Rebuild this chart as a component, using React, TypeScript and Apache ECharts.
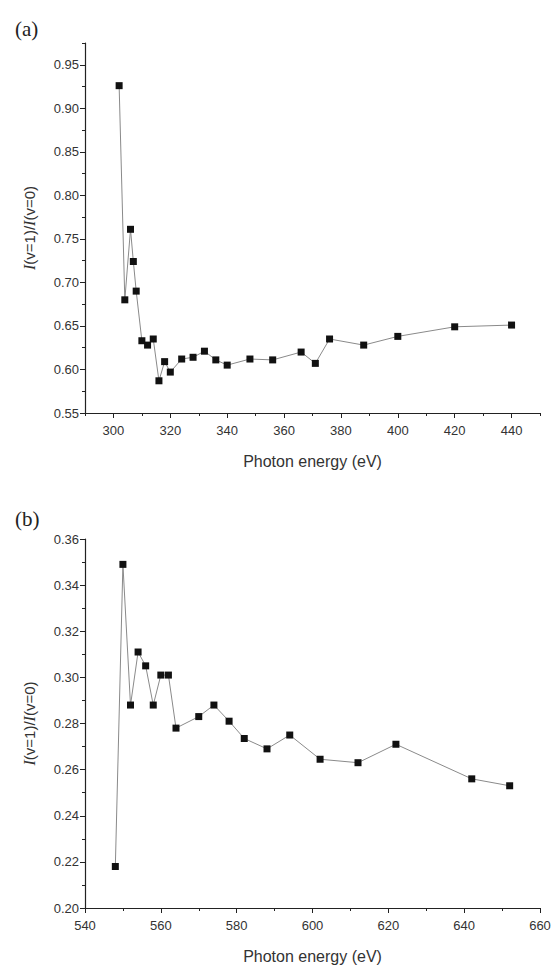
import React, { useEffect, useRef } from "react";
import * as echarts from "echarts";

// Panel (a): photon energy (eV) vs intensity ratio
const energyA = [302, 304, 306, 307, 308, 310, 312, 314, 316, 318, 320, 324, 328, 332, 336, 340, 348, 356, 366, 371, 376, 388, 400, 420, 440];
const ratioA = [0.926, 0.680, 0.761, 0.724, 0.690, 0.633, 0.628, 0.635, 0.587, 0.609, 0.597, 0.612, 0.614, 0.621, 0.611, 0.605, 0.612, 0.611, 0.620, 0.607, 0.635, 0.628, 0.638, 0.649, 0.651];

// Panel (b)
const energyB = [548, 550, 552, 554, 556, 558, 560, 562, 564, 570, 574, 578, 582, 588, 594, 602, 612, 622, 642, 652];
const ratioB = [0.218, 0.349, 0.288, 0.311, 0.305, 0.288, 0.301, 0.301, 0.278, 0.283, 0.288, 0.281, 0.2735, 0.269, 0.275, 0.2645, 0.263, 0.271, 0.256, 0.253];

// Tick labels
const xTicksA = [300, 320, 340, 360, 380, 400, 420, 440];
const yTicksA = [0.55, 0.6, 0.65, 0.7, 0.75, 0.8, 0.85, 0.9, 0.95];

const FONT = "'Liberation Sans', Arial, sans-serif";
const SERIF = "'Liberation Serif', 'Times New Roman', serif";
const AXIS_COLOR = "#222";
const LABEL_COLOR = "#333";

export default function App() {
  const ref = useRef<HTMLDivElement>(null);

  useEffect(() => {
    if (!ref.current) return;
    const chart = echarts.init(ref.current, null, { renderer: "svg" });

    const yName = {
      name: "{i|I}(v=1)/{i|I}(v=0)",
      nameLocation: "middle",
      nameGap: 48,
      nameRotate: 90,
      nameTextStyle: {
        fontFamily: FONT,
        fontSize: 15,
        color: LABEL_COLOR,
        rich: {
          i: { fontFamily: SERIF, fontStyle: "italic", fontSize: 16, color: LABEL_COLOR },
        },
      },
    };
    const xName = {
      name: "Photon energy (eV)",
      nameLocation: "middle",
      nameGap: 40,
      nameTextStyle: { fontFamily: FONT, fontSize: 16, color: LABEL_COLOR },
    };
    const axisLine = { show: true, lineStyle: { color: AXIS_COLOR, width: 1.2 } };
    const labelStyle = { fontFamily: FONT, fontSize: 13, color: LABEL_COLOR };

    const option: any = {
      animation: false,
      backgroundColor: "#fff",
      title: [
        { text: "(a)", left: 10, top: 13, textStyle: { fontFamily: SERIF, fontSize: 21, fontWeight: "normal", color: "#222" } },
        { text: "(b)", left: 10, top: 503, textStyle: { fontFamily: SERIF, fontSize: 21, fontWeight: "normal", color: "#222" } },
      ],
      grid: [
        { left: 85, top: 43, width: 455, height: 370 },
        { left: 85, top: 539, width: 455, height: 369 },
      ],
      xAxis: [
        {
          gridIndex: 0, type: "value", min: 290, max: 450,
          axisLine,
          axisTick: { show: true, customValues: xTicksA, length: 5, lineStyle: { color: AXIS_COLOR } },
          axisLabel: { customValues: xTicksA, ...labelStyle, margin: 11 },
          splitLine: { show: false },
          ...xName,
        },
        {
          gridIndex: 0, type: "value", min: 290, max: 450, interval: 10, position: "bottom",
          axisLine: { show: false },
          axisTick: { show: true, length: 3, lineStyle: { color: AXIS_COLOR } },
          axisLabel: { show: false },
          splitLine: { show: false },
        },
        {
          gridIndex: 1, type: "value", min: 540, max: 660, interval: 20,
          axisLine,
          axisTick: { show: true, length: 5, lineStyle: { color: AXIS_COLOR } },
          minorTick: { show: true, splitNumber: 2, length: 3, lineStyle: { color: AXIS_COLOR } },
          axisLabel: { ...labelStyle, margin: 11 },
          splitLine: { show: false },
          ...xName,
        },
      ],
      yAxis: [
        {
          gridIndex: 0, type: "value", min: 0.55, max: 0.975,
          axisLine,
          axisTick: { show: true, customValues: yTicksA, length: 5, lineStyle: { color: AXIS_COLOR } },
          axisLabel: { customValues: yTicksA, ...labelStyle, margin: 6, formatter: (v: number) => v.toFixed(2) },
          splitLine: { show: false },
          ...yName,
        },
        {
          gridIndex: 0, type: "value", min: 0.55, max: 0.975, interval: 0.025, position: "left",
          axisLine: { show: false },
          axisTick: { show: true, length: 3, lineStyle: { color: AXIS_COLOR } },
          axisLabel: { show: false },
          splitLine: { show: false },
        },
        {
          gridIndex: 1, type: "value", min: 0.2, max: 0.36, interval: 0.02,
          axisLine,
          axisTick: { show: true, length: 5, lineStyle: { color: AXIS_COLOR } },
          minorTick: { show: true, splitNumber: 2, length: 3, lineStyle: { color: AXIS_COLOR } },
          axisLabel: { ...labelStyle, margin: 6, formatter: (v: number) => v.toFixed(2) },
          splitLine: { show: false },
          ...yName,
        },
      ],
      series: [
        {
          type: "line", xAxisIndex: 0, yAxisIndex: 0,
          data: energyA.map((e, i) => [e, ratioA[i]]),
          symbol: "rect", symbolSize: 7,
          itemStyle: { color: "#111" },
          lineStyle: { color: "#8a8a8a", width: 1 },
        },
        {
          type: "line", xAxisIndex: 2, yAxisIndex: 2,
          data: energyB.map((e, i) => [e, ratioB[i]]),
          symbol: "rect", symbolSize: 7,
          itemStyle: { color: "#111" },
          lineStyle: { color: "#8a8a8a", width: 1 },
        },
      ],
    };

    chart.setOption(option);
    return () => chart.dispose();
  }, []);

  return <div ref={ref} style={{ position: "absolute", left: 0, top: 0, width: 556, height: 967 }} />;
}
